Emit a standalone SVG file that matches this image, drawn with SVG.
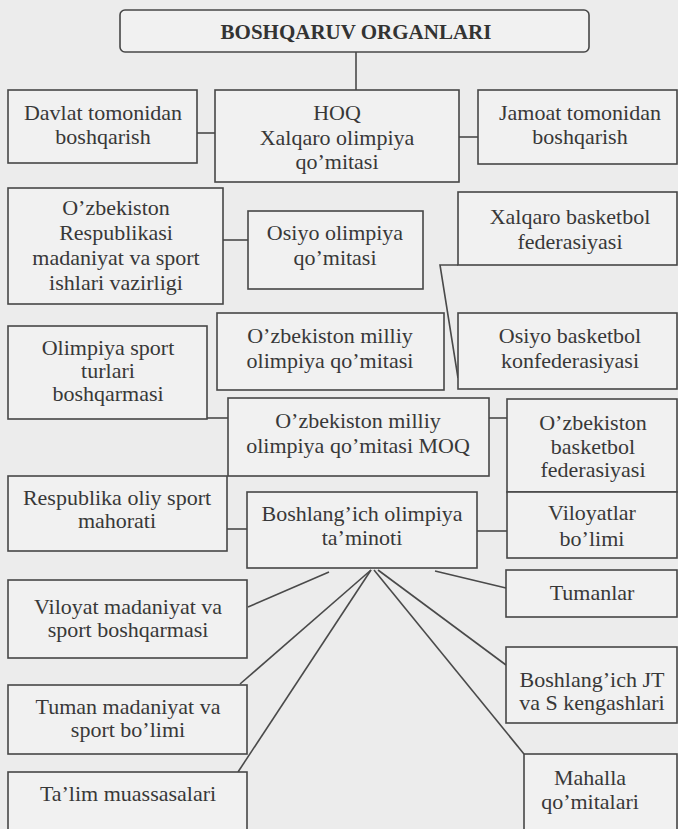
<svg xmlns="http://www.w3.org/2000/svg" width="678" height="829" viewBox="0 0 678 829">
<style>
.bx{fill:#f1f1f1;stroke:#474747;stroke-width:1.6}
.t{font-family:'Liberation Serif','DejaVu Serif',serif;font-size:22px;fill:#383838;text-anchor:middle}
.h{font-family:'Liberation Serif','DejaVu Serif',serif;font-size:21px;font-weight:bold;fill:#333;text-anchor:middle}
.c{fill:none;stroke:#4a4a4a;stroke-width:1.6}
</style>
<rect x="0" y="0" width="678" height="829" fill="#ececec"/>
<g id="connectors">
<line class="c" x1="356" y1="52" x2="356" y2="90"/>
<line class="c" x1="197" y1="133" x2="215" y2="133"/>
<line class="c" x1="459" y1="137" x2="478" y2="137"/>
<line class="c" x1="223" y1="240" x2="248" y2="240"/>
<polyline class="c" points="458,265 440,265 458,378"/>
<line class="c" x1="207" y1="418" x2="228" y2="418"/>
<line class="c" x1="489" y1="418" x2="507" y2="418"/>
<line class="c" x1="227" y1="529" x2="247" y2="529"/>
<line class="c" x1="477" y1="531" x2="507" y2="531"/>
<line class="c" x1="329" y1="572" x2="248" y2="607"/>
<line class="c" x1="371" y1="570" x2="240" y2="684"/>
<line class="c" x1="371" y1="570" x2="238" y2="772"/>
<line class="c" x1="374" y1="570" x2="524" y2="754"/>
<line class="c" x1="378" y1="570" x2="506" y2="665"/>
<line class="c" x1="435" y1="571" x2="506" y2="588"/>
</g>
<g id="n-top"><rect class="bx" x="120" y="10" width="469" height="42" rx="5"/><text class="h" x="356" y="39">BOSHQARUV ORGANLARI</text></g>
<g id="n-davlat"><rect class="bx" x="8" y="90" width="189" height="73"/><text class="t" x="103" y="120">Davlat tomonidan</text><text class="t" x="103" y="144">boshqarish</text></g>
<g id="n-hoq"><rect class="bx" x="215" y="90" width="244" height="92"/><text class="t" x="337" y="120">HOQ</text><text class="t" x="337" y="145">Xalqaro olimpiya</text><text class="t" x="337" y="169">qo’mitasi</text></g>
<g id="n-jamoat"><rect class="bx" x="478" y="90" width="199" height="74"/><text class="t" x="580" y="120">Jamoat tomonidan</text><text class="t" x="580" y="144">boshqarish</text></g>
<g id="n-uzresp"><rect class="bx" x="8" y="188" width="215" height="116"/><text class="t" x="116" y="215">O’zbekiston</text><text class="t" x="116" y="240">Respublikasi</text><text class="t" x="116" y="265">madaniyat va sport</text><text class="t" x="116" y="290">ishlari vazirligi</text></g>
<g id="n-osiyo-olimp"><rect class="bx" x="248" y="211" width="175" height="78"/><text class="t" x="335" y="240">Osiyo olimpiya</text><text class="t" x="335" y="265">qo’mitasi</text></g>
<g id="n-xalqaro-basket"><rect class="bx" x="458" y="192" width="219" height="73"/><text class="t" x="570" y="224">Xalqaro basketbol</text><text class="t" x="570" y="249">federasiyasi</text></g>
<g id="n-olimp-sport"><rect class="bx" x="8" y="326" width="199" height="93"/><text class="t" x="108" y="355">Olimpiya sport</text><text class="t" x="108" y="378">turlari</text><text class="t" x="108" y="401">boshqarmasi</text></g>
<g id="n-uz-milliy"><rect class="bx" x="217" y="313" width="227" height="77"/><text class="t" x="330" y="343">O’zbekiston milliy</text><text class="t" x="330" y="368">olimpiya qo’mitasi</text></g>
<g id="n-osiyo-basket"><rect class="bx" x="458" y="313" width="219" height="76"/><text class="t" x="570" y="343">Osiyo basketbol</text><text class="t" x="570" y="368">konfederasiyasi</text></g>
<g id="n-moq"><rect class="bx" x="228" y="398" width="261" height="78"/><text class="t" x="358" y="428">O’zbekiston milliy</text><text class="t" x="358" y="453">olimpiya qo’mitasi MOQ</text></g>
<g id="n-uz-basket"><rect class="bx" x="507" y="399" width="170" height="93"/><text class="t" x="593" y="430">O’zbekiston</text><text class="t" x="593" y="454">basketbol</text><text class="t" x="593" y="477">federasiyasi</text></g>
<g id="n-respublika"><rect class="bx" x="8" y="476" width="219" height="75"/><text class="t" x="117" y="505">Respublika oliy sport</text><text class="t" x="117" y="528">mahorati</text></g>
<g id="n-boshlangich"><rect class="bx" x="247" y="492" width="230" height="76"/><text class="t" x="362" y="521">Boshlang’ich olimpiya</text><text class="t" x="362" y="545">ta’minoti</text></g>
<g id="n-viloyatlar"><rect class="bx" x="507" y="492" width="170" height="66"/><text class="t" x="592" y="520">Viloyatlar</text><text class="t" x="592" y="546">bo’limi</text></g>
<g id="n-tumanlar"><rect class="bx" x="506" y="570" width="171" height="47"/><text class="t" x="592" y="600">Tumanlar</text></g>
<g id="n-viloyat-mad"><rect class="bx" x="8" y="580" width="239" height="78"/><text class="t" x="128" y="614">Viloyat madaniyat va</text><text class="t" x="128" y="637">sport boshqarmasi</text></g>
<g id="n-bosh-jt"><rect class="bx" x="506" y="647" width="171" height="76"/><text class="t" x="592" y="687">Boshlang’ich JT</text><text class="t" x="592" y="710">va S kengashlari</text></g>
<g id="n-tuman-mad"><rect class="bx" x="8" y="685" width="239" height="69"/><text class="t" x="128" y="714">Tuman madaniyat va</text><text class="t" x="128" y="737">sport bo’limi</text></g>
<g id="n-mahalla"><rect class="bx" x="524" y="754" width="153" height="80"/><text class="t" x="590" y="785">Mahalla</text><text class="t" x="590" y="809">qo’mitalari</text></g>
<g id="n-talim"><rect class="bx" x="8" y="772" width="239" height="62"/><text class="t" x="128" y="801">Ta’lim muassasalari</text></g>
</svg>
